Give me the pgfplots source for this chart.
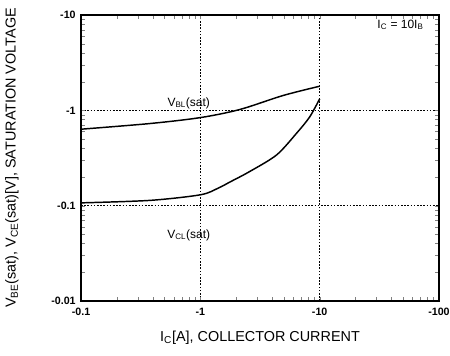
\documentclass[border=0pt]{standalone}
\usepackage{pgfplots}
\pgfplotsset{compat=1.18}
\usepackage{fontspec}
\setmainfont{Liberation Sans}

% V_BE(sat) and V_CE(sat) against collector current (magnitudes)
\pgfplotstableread{
ic    v
0.1   0.634
0.378 0.727
1     0.839
2.14  1.02
4.93  1.43
10    1.79
}\vbe
\pgfplotstableread{
ic    v
0.1   0.107
0.378 0.1136
1     0.130
1.4   0.152
1.77  0.177
2.59  0.228
4.35  0.340
6.38  0.572
8.24  0.851
10    1.32
}\vce

\begin{document}
\begin{tikzpicture}
\useasboundingbox (-60.75pt,-41.25pt) rectangle (276.75pt,225.75pt);
\begin{axis}[
  at={(0,0)}, anchor=south west,
  scale only axis, width=268.5pt, height=214.5pt,
  xmode=log, ymode=log,
  xmin=0.1, xmax=100, ymin=0.01, ymax=10,
  xtick={0.1,1,10,100}, xticklabels={-0.1,-1,-10,-100},
  ytick={0.01,0.1,1,10}, yticklabels={-0.01,-0.1,-1,-10},
  minor tick num=0, minor xtick={}, minor ytick={},
  major tick length=0pt,
  grid=major,
  major grid style={black, line width=0.5pt, dash pattern=on 1.2pt off 1.2pt},
  axis line style={line width=1.3pt},
  tick label style={font=\fontsize{8}{9}\selectfont\bfseries},
  /pgf/number format/assume math mode=true,
  xticklabel style={yshift=-1.5pt},
  yticklabel style={xshift=-0.5pt},
  label style={font=\fontsize{10.8}{12}\selectfont},
  xlabel={I\textsubscript{C}[A], COLLECTOR CURRENT},
  xlabel style={at={(axis description cs:0.5,0)}, anchor=center, yshift=-27.75pt},
  ylabel={V\textsubscript{BE}(sat), V\textsubscript{CE}(sat)[V], SATURATION VOLTAGE},
  ylabel style={at={(axis description cs:-0.1927,0.5)}, anchor=center},
]
\addplot[black, line width=1.1pt, smooth, tension=0.5] table[x=ic, y=v] {\vbe};
\addplot[black, line width=1.1pt, smooth, tension=0.5] table[x=ic, y=v] {\vce};
\node[font=\fontsize{9}{10}\selectfont] at (axis cs:0.80,1.19) {V\textsubscript{BL}(sat)};
\node[font=\fontsize{9}{10}\selectfont] at (axis cs:0.80,0.049) {V\textsubscript{CL}(sat)};
\node[font=\fontsize{9}{10}\selectfont] at (axis cs:47.6,7.85) {I\textsubscript{C} = 10I\textsubscript{B}};
\end{axis}
\end{tikzpicture}
\end{document}
